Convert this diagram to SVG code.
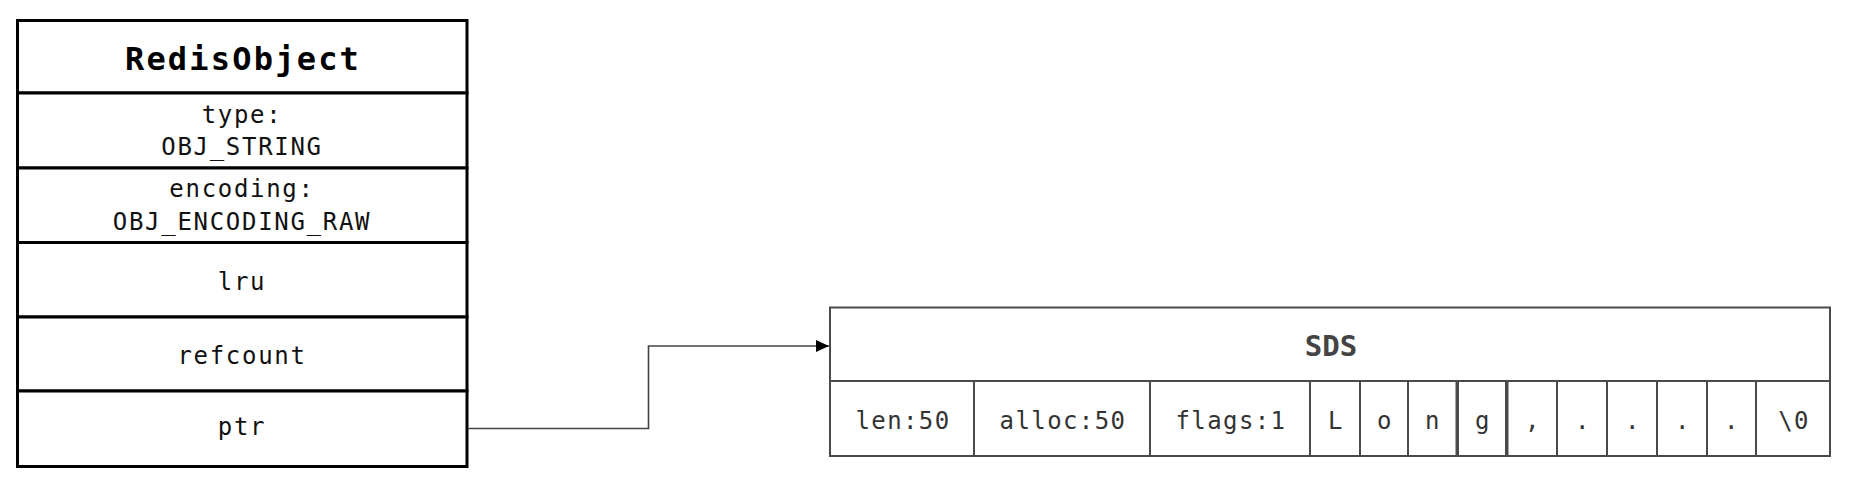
<svg xmlns="http://www.w3.org/2000/svg" width="1853" height="495" viewBox="0 0 1853 495">
  <style>
    .bg { fill: #ffffff; }
    .row { fill: #ffffff; stroke: #000000; stroke-width: 3; }
    .cell { fill: #ffffff; stroke: #4a4a4a; stroke-width: 2; }
    .t { font-family: "DejaVu Sans Mono", "Liberation Mono", monospace; text-anchor: middle; }
    .title { font-size: 32px; font-weight: bold; fill: #000000; letter-spacing: 2.2px; }
    .field { font-size: 24px; fill: #111111; letter-spacing: 1.7px; }
    .sdstitle { font-size: 29px; font-weight: bold; fill: #444444; }
    .ctext { font-size: 24px; fill: #333333; letter-spacing: 1.4px; }
    .conn { fill: none; stroke: #444444; stroke-width: 1.6; }
  </style>
  <defs>
    <marker id="arrow" markerUnits="userSpaceOnUse" markerWidth="14" markerHeight="13" refX="13" refY="6" orient="auto">
      <path d="M0,0 L13,6 L0,12 z" fill="#000000"/>
    </marker>
  </defs>
  <rect class="bg" x="0" y="0" width="1853" height="495"/>

  <g id="redisobject">
    <rect class="row" x="17.5" y="20.5" width="449.5" height="72.5"/>
    <rect class="row" x="17.5" y="93" width="449.5" height="75"/>
    <rect class="row" x="17.5" y="168" width="449.5" height="74.5"/>
    <rect class="row" x="17.5" y="242.5" width="449.5" height="74.5"/>
    <rect class="row" x="17.5" y="317" width="449.5" height="74"/>
    <rect class="row" x="17.5" y="391" width="449.5" height="75.5"/>
    <text class="t title" x="243" y="70">RedisObject</text>
    <text class="t field" x="242" y="123">type:</text>
    <text class="t field" x="242" y="155">OBJ_STRING</text>
    <text class="t field" x="242" y="197">encoding:</text>
    <text class="t field" x="242" y="230">OBJ_ENCODING_RAW</text>
    <text class="t field" x="242" y="290">lru</text>
    <text class="t field" x="242" y="364">refcount</text>
    <text class="t field" x="242" y="435">ptr</text>
  </g>

  <g id="sds">
    <rect class="cell" x="830" y="307.5" width="1000" height="73.5"/>
    <text class="t sdstitle" x="1331" y="356">SDS</text>
    <rect class="cell" x="830" y="381" width="144" height="75"/>
    <rect class="cell" x="974" y="381" width="176" height="75"/>
    <rect class="cell" x="1150" y="381" width="160" height="75"/>
    <rect class="cell" x="1310" y="381" width="50" height="75"/>
    <rect class="cell" x="1360" y="381" width="48" height="75"/>
    <rect class="cell" x="1408" y="381" width="48.5" height="75"/>
    <rect class="cell" x="1458" y="381" width="48" height="75"/>
    <rect class="cell" x="1507.5" y="381" width="49.5" height="75"/>
    <rect class="cell" x="1557" y="381" width="50" height="75"/>
    <rect class="cell" x="1607" y="381" width="50" height="75"/>
    <rect class="cell" x="1657" y="381" width="50" height="75"/>
    <rect class="cell" x="1707" y="381" width="49" height="75"/>
    <rect class="cell" x="1756" y="381" width="74" height="75"/>
    <text class="t ctext" x="903" y="429">len:50</text>
    <text class="t ctext" x="1063" y="429">alloc:50</text>
    <text class="t ctext" x="1231" y="429">flags:1</text>
    <text class="t ctext" x="1336" y="429">L</text>
    <text class="t ctext" x="1385" y="429">o</text>
    <text class="t ctext" x="1433" y="429">n</text>
    <text class="t ctext" x="1483" y="429">g</text>
    <text class="t ctext" x="1533" y="429">,</text>
    <text class="t ctext" x="1583" y="429">.</text>
    <text class="t ctext" x="1633" y="429">.</text>
    <text class="t ctext" x="1683" y="429">.</text>
    <text class="t ctext" x="1732" y="429">.</text>
    <text class="t ctext" x="1794" y="429">\0</text>
  </g>

  <g id="connectors">
    <path class="conn" d="M468,428.5 H648.5 V346 H829" marker-end="url(#arrow)"/>
  </g>
</svg>
